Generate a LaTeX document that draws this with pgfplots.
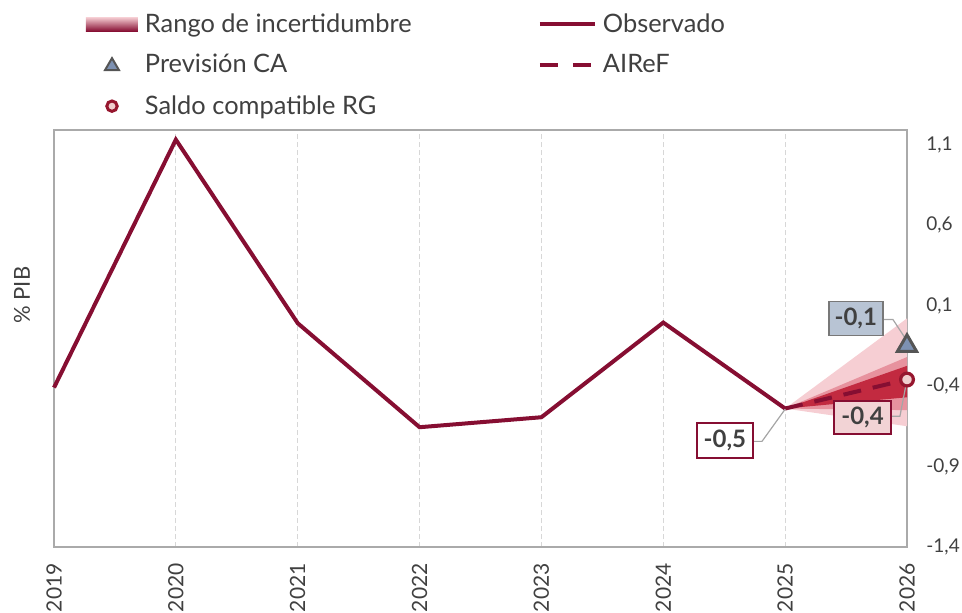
\documentclass[border=0pt]{standalone}
\usepackage{pgfplots}
\pgfplotsset{compat=1.18}
\usepackage{fontspec}
\setmainfont{Lato}
\definecolor{obs}{RGB}{134,14,50}
\definecolor{txt}{RGB}{64,64,64}
\definecolor{fanA}{RGB}{246,206,211}
\definecolor{fanB}{RGB}{231,146,158}
\definecolor{fanC}{RGB}{194,42,64}
\definecolor{triF}{RGB}{125,145,178}
\definecolor{triD}{RGB}{85,85,85}
\definecolor{boxA}{RGB}{184,196,212}
\definecolor{boxAD}{RGB}{120,120,120}
\definecolor{cirF}{RGB}{240,206,206}
\definecolor{cirD}{RGB}{150,22,46}
\definecolor{boxB}{RGB}{242,211,213}
\definecolor{lead}{RGB}{165,165,165}
\definecolor{axisgray}{RGB}{170,170,170}
\definecolor{gridgray}{RGB}{215,215,215}
\newcommand{\cellbox}{\path[draw=none, fill=none] (0pt,-10.25pt) rectangle (26pt,10.25pt);}
\begin{document}
\begin{tikzpicture}
\begin{axis}[name=ax, scale only axis, width=426.5pt, height=208.5pt,
  xmin=2019, xmax=2026, ymin=-1.4, ymax=1.19, clip=false,
  axis line style={draw=axisgray, line width=0.8pt},
  xtick={2019,2020,2021,2022,2023,2024,2025,2026},
  xticklabels={2019,2020,2021,2022,2023,2024,2025,2026},
  major tick length=0pt,
  xmajorgrids,
  major x grid style={draw=gridgray, line width=0.6pt, dash pattern=on 2.5pt off 1.5pt},
  ytick={-1.4,-0.9,-0.4,0.1,0.6,1.1},
  yticklabels={{-1,4},{-0,9},{-0,4},{0,1},{0,6},{1,1}},
  yticklabel pos=right,
  yticklabel style={anchor=west, inner sep=0pt, xshift=9.5pt, font=\fontsize{9.5}{10}\selectfont, text=txt},
  xticklabel style={rotate=90, anchor=east, inner sep=0pt, font=\fontsize{10.5}{12}\selectfont, text=txt},
  xticklabel shift=8pt,
  ylabel={\% PIB},
  every axis y label/.style={at={(axis description cs:-0.0375,0.604)}, rotate=90, anchor=center, font=\fontsize{11}{12}\selectfont, text=txt},
  legend columns=2,
  legend cell align=left,
  legend style={draw=none, fill=none, inner sep=0pt, outer sep=0pt,
    at={(axis description cs:0.0375,1.303)}, anchor=north west,
    row sep=0pt, column sep=0pt, nodes={inner sep=0pt, outer sep=0pt},
    font=\fontsize{12.7}{14}\selectfont, text=txt},
]
% fan chart (uncertainty range)
\addplot[draw=none, fill=fanA, forget plot] coordinates {(2025,-0.54) (2026,0.02) (2026,-0.65)} -- cycle;
\addplot[draw=none, fill=fanB, forget plot] coordinates {(2025,-0.54) (2026,-0.22) (2026,-0.55)} -- cycle;
\addplot[draw=none, fill=fanC, forget plot] coordinates {(2025,-0.54) (2026,-0.275) (2026,-0.47)} -- cycle;
% observed
\addplot[obs, line width=2pt, forget plot] coordinates {
 (2019,-0.41) (2020,1.13) (2021,-0.01) (2022,-0.656) (2023,-0.594) (2024,-0.006) (2025,-0.54)};
% AIReF
\addplot[obs, line width=2pt, dash pattern=on 9pt off 6pt, forget plot] coordinates {(2025,-0.54) (2026,-0.36)};
% leader lines
\draw[lead, line width=0.6pt] (axis cs:2025.803,0.0125) -- (axis cs:2025.885,0.0125) -- (axis cs:2026.0,-0.12);
\draw[lead, line width=0.6pt] (axis cs:2025.868,-0.5875) -- (axis cs:2025.942,-0.5875) -- (axis cs:2026.0,-0.36);
\draw[lead, line width=0.6pt] (axis cs:2024.736,-0.744) -- (axis cs:2024.81,-0.744) -- (axis cs:2025.0,-0.544);
% label boxes
\node[fill=boxA, draw=boxAD, line width=0.8pt, minimum width=27pt, minimum height=17pt, inner sep=0pt, font=\fontsize{12}{13}\selectfont\bfseries, text=txt] at (axis cs:2025.58,0.019) {-0,1};
\node[fill=boxB, draw=obs, line width=0.8pt, minimum width=28.5pt, minimum height=16.5pt, inner sep=0pt, font=\fontsize{12}{13}\selectfont\bfseries, text=txt] at (axis cs:2025.635,-0.597) {-0,4};
\node[fill=white, draw=obs, line width=0.8pt, minimum width=28pt, minimum height=17.5pt, inner sep=0pt, font=\fontsize{12}{13}\selectfont\bfseries, text=txt] at (axis cs:2024.506,-0.74) {-0,5};
% markers
\addplot[only marks, mark=triangle*, mark size=5.5pt, mark options={fill=triF, draw=triD, line width=1.5pt}, forget plot] coordinates {(2026,-0.15)};
\addplot[only marks, mark=*, mark size=3.2pt, mark options={fill=cirF, draw=cirD, line width=1.6pt}, forget plot] coordinates {(2026,-0.36)};
% legend
\addlegendimage{draw=none, legend image code/.code={\cellbox\shade[draw=none, top color=fanA, middle color={rgb,255:red,232;green,110;blue,130}, bottom color=obs] (0pt,-3.5pt) rectangle (26pt,3.5pt);}}
\addlegendentry{\hspace{3.5pt}\makebox[196.5pt][l]{Rango de incertidumbre}}
\addlegendimage{draw=none, legend image code/.code={\cellbox\draw[obs, line width=2pt] (0pt,0pt) -- (27.5pt,0pt);}}
\addlegendentry{\hspace{3pt}Observado}
\addlegendimage{draw=none, legend image code/.code={\cellbox\draw[fill=triF, draw=triD, line width=1pt] (9.5pt,-2.5pt) -- (16.5pt,-2.5pt) -- (13pt,3.5pt) -- cycle;}}
\addlegendentry{\hspace{3.5pt}\makebox[196.5pt][l]{Previsión CA}}
\addlegendimage{draw=none, legend image code/.code={\cellbox\draw[obs, line width=2pt, dash pattern=on 9pt off 7.5pt] (0pt,0pt) -- (27.5pt,0pt);}}
\addlegendentry{\hspace{3pt}AIReF}
\addlegendimage{draw=none, legend image code/.code={\cellbox\draw[fill=cirF, draw=cirD, line width=1.5pt] (13pt,0pt) circle (2.6pt);}}
\addlegendentry{\hspace{3.5pt}\makebox[196.5pt][l]{Saldo compatible RG}}
\end{axis}
\pgfresetboundingbox
\path (ax.south west) ++(-27pt,-32.5pt) rectangle ++(481pt,306pt);
\end{tikzpicture}
\end{document}
